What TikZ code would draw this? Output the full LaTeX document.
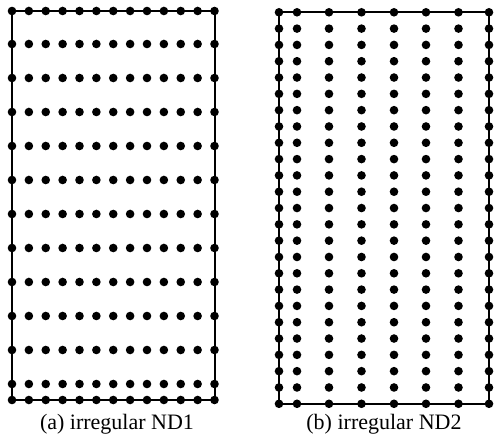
\documentclass[tikz,border=0pt]{standalone}
\usepackage{fontspec}
\setmainfont{Liberation Serif}
\begin{document}
\begin{tikzpicture}[x=1pt,y=-1pt,
  frame/.style={draw=black,line width=2pt},
  dot/.style={fill=black},
  caption/.style={anchor=base,inner sep=0pt,font=\fontsize{22}{25}\selectfont}]
\useasboundingbox (0,0) rectangle (496,438);
% ---- panel (a)
\draw[frame] (12,11) rectangle (214.5,400);
\foreach \i in {0,...,12}{
  \pgfmathsetmacro{\xx}{12+\i*202.5/12}
  \foreach \yy in {11,44,78,112,146,180,214,248,282,316,350,384,400}{
    \fill[dot] (\xx,\yy) circle[radius=4.3];
  }
}
\node[caption] (capa) at (117,429.5) {(a) irregular ND1};
% ---- panel (b)
\draw[frame] (279,12.3) rectangle (489,404);
\foreach \xx in {279,297,329,361.5,394,426,458.5,489}{
  \foreach \k in {0,...,24}{
    \pgfmathsetmacro{\yy}{12.3+\k*16.3125}
    \fill[dot] (\xx,\yy) circle[radius=4.3];
  }
}
\node[caption] (capb) at (384,429.5) {(b) irregular ND2};
\end{tikzpicture}
\end{document}
